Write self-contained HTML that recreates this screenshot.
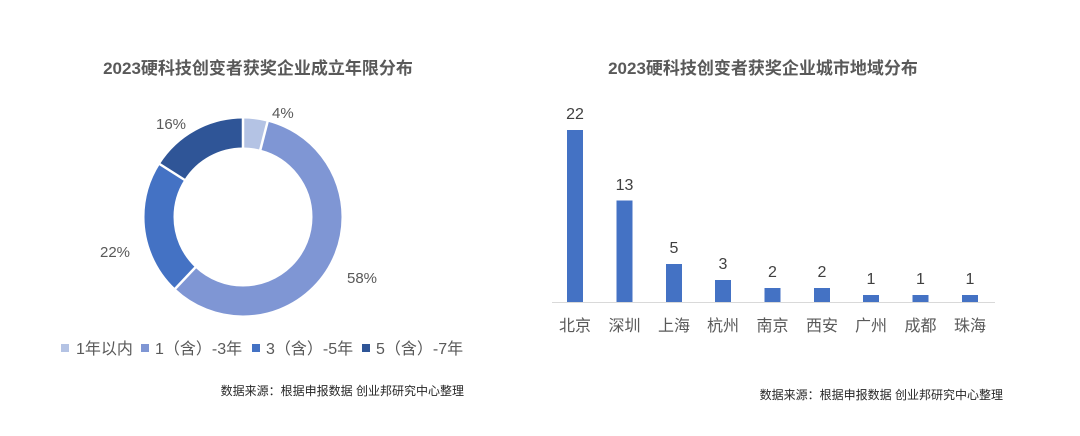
<!DOCTYPE html>
<html><head><meta charset="utf-8"><style>
body{margin:0;width:1080px;height:431px;background:#fff;overflow:hidden;font-family:"Liberation Sans","Noto Sans CJK SC",sans-serif;}
</style></head><body>
<svg width="1080" height="431" xmlns="http://www.w3.org/2000/svg" style="font-family:'Liberation Sans','Noto Sans CJK SC',sans-serif">
<g font-size="17" font-weight="bold" fill="#595959" text-anchor="middle">
<text x="258" y="74">2023硬科技创变者获奖企业成立年限分布</text>
<text x="763" y="74">2023硬科技创变者获奖企业城市地域分布</text>
</g>
<g transform="translate(243,217) rotate(-90)" fill="none" stroke-width="29">
<circle r="84" stroke="#b4c3e4" stroke-dasharray="21.1 506.8" stroke-dashoffset="0"/>
<circle r="84" stroke="#7f96d4" stroke-dasharray="306.1 221.7" stroke-dashoffset="-21.1"/>
<circle r="84" stroke="#4472c4" stroke-dasharray="116.1 411.7" stroke-dashoffset="-327.2"/>
<circle r="84" stroke="#2f5597" stroke-dasharray="84.4 443.4" stroke-dashoffset="-443.4"/>
</g>
<g stroke="#fff" stroke-width="2.5">
<line x1="243" y1="217" x2="243" y2="117"/>
<line x1="243" y1="217" x2="268" y2="120"/>
<line x1="243" y1="217" x2="174" y2="290"/>
<line x1="243" y1="217" x2="158" y2="163"/>
</g>
<circle cx="243" cy="217" r="69" fill="#fff"/>
<g font-size="15" fill="#595959">
<text x="272" y="118">4%</text>
<text x="156" y="129">16%</text>
<text x="100" y="257">22%</text>
<text x="347" y="283">58%</text>
</g>
<g font-size="16" fill="#595959">
<rect x="61" y="344" width="8" height="8" fill="#b4c3e4"/><text x="76" y="354">1年以内</text>
<rect x="141" y="344" width="8" height="8" fill="#7f96d4"/><text x="155" y="354">1（含）-3年</text>
<rect x="252" y="344" width="8" height="8" fill="#4472c4"/><text x="266" y="354">3（含）-5年</text>
<rect x="362" y="344" width="8" height="8" fill="#2f5597"/><text x="376" y="354">5（含）-7年</text>
</g>
<g font-size="12" fill="#262626" text-anchor="end">
<text x="464" y="395">数据来源：根据申报数据 创业邦研究中心整理</text>
<text x="1003" y="399">数据来源：根据申报数据 创业邦研究中心整理</text>
</g>
<line x1="552" y1="302.5" x2="995" y2="302.5" stroke="#d9d9d9" stroke-width="1"/>
<g fill="#4472c4">
<rect x="567" y="130" width="16" height="172"/>
<rect x="616.5" y="200.5" width="16" height="101.5"/>
<rect x="666" y="264" width="16" height="38"/>
<rect x="715" y="280" width="16" height="22"/>
<rect x="764.5" y="288" width="16" height="14"/>
<rect x="814" y="288" width="16" height="14"/>
<rect x="863" y="295" width="16" height="7"/>
<rect x="912.5" y="295" width="16" height="7"/>
<rect x="962" y="295" width="16" height="7"/>
</g>
<g font-size="16" fill="#404040" text-anchor="middle">
<text x="575" y="119">22</text><text x="624.5" y="190">13</text><text x="674" y="253">5</text>
<text x="723" y="269">3</text><text x="772.5" y="277">2</text><text x="822" y="277">2</text>
<text x="871" y="284">1</text><text x="920.5" y="284">1</text><text x="970" y="284">1</text>
</g>
<g font-size="16" fill="#595959" text-anchor="middle">
<text x="575" y="331">北京</text><text x="624.5" y="331">深圳</text><text x="674" y="331">上海</text>
<text x="723" y="331">杭州</text><text x="772.5" y="331">南京</text><text x="822" y="331">西安</text>
<text x="871" y="331">广州</text><text x="920.5" y="331">成都</text><text x="970" y="331">珠海</text>
</g>
</svg>
</body></html>
